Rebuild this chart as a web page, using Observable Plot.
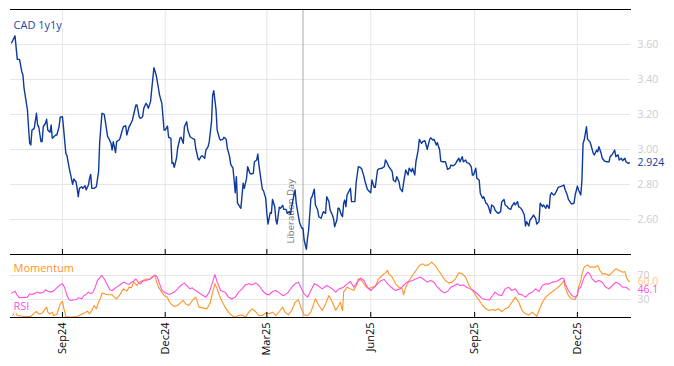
<!DOCTYPE html>
<html><head><meta charset="utf-8">
<script src="https://cdn.jsdelivr.net/npm/d3@7"></script>
<script src="https://cdn.jsdelivr.net/npm/@observablehq/plot@0.6"></script>
<style>
html,body{margin:0;padding:0;background:#fff;overflow:hidden}
#chart{width:674px;height:366px;position:relative;background:#fff}
#chart svg{display:block}
</style></head><body><div id="chart"></div>
<script>
// ---- data (day offset from series start, value) ----
const seriesStart = "2024-07-17";
const domainEnd = "2026-01-17";
const tickDates = ["2024-09-01","2024-12-01","2025-03-01","2025-06-01","2025-09-01","2025-12-01"];
const tickLabels = ["Sep24","Dec24","Mar25","Jun25","Sep25","Dec25"];
const yTicksTop = [2.6, 2.8, 3.0, 3.2, 3.4, 3.6];
const yTicksBottom = [30, 70];
const eventDate = "2025-04-02";
const eventLabel = "Liberation Day";
const seriesName = "CAD 1y1y";
const momName = "Momentum";
const rsiName = "RSI";

const cad = [[1,3.610],[4,3.649],[6,3.515],[8,3.515],[10,3.445],[11,3.426],[12,3.350],[15,3.226],[16,3.123],[17,3.035],[18,3.026],[19,3.111],[21,3.121],[23,3.207],[24,3.140],[25,3.130],[27,3.045],[28,3.045],[29,3.130],[31,3.150],[32,3.173],[33,3.111],[35,3.098],[36,3.140],[37,3.064],[40,3.083],[41,3.083],[43,3.130],[44,3.184],[46,3.187],[47,3.121],[49,2.978],[50,2.965],[52,2.893],[53,2.864],[55,2.801],[56,2.831],[58,2.816],[59,2.778],[60,2.730],[61,2.778],[63,2.787],[64,2.778],[66,2.793],[67,2.769],[69,2.797],[70,2.835],[71,2.858],[72,2.778],[74,2.778],[76,2.787],[78,2.873],[79,3.045],[81,3.207],[83,3.201],[84,3.159],[86,3.073],[87,3.064],[89,3.035],[90,2.997],[91,3.045],[93,2.982],[94,3.045],[96,3.054],[97,3.064],[99,3.111],[100,3.130],[102,3.136],[103,3.083],[105,3.130],[106,3.140],[108,3.169],[109,3.197],[111,3.254],[112,3.254],[114,3.187],[115,3.178],[117,3.187],[118,3.235],[120,3.264],[121,3.254],[122,3.235],[124,3.273],[125,3.340],[127,3.467],[129,3.426],[131,3.350],[132,3.311],[134,3.264],[136,3.111],[137,3.111],[139,3.134],[140,3.070],[142,3.064],[143,2.921],[144,2.925],[145,2.898],[147,2.950],[148,3.007],[150,3.064],[151,3.070],[153,3.035],[154,3.130],[156,3.159],[157,3.111],[159,3.073],[161,3.064],[163,3.058],[164,3.007],[166,2.950],[167,2.940],[169,2.963],[170,2.963],[172,2.950],[173,2.997],[175,3.016],[176,3.045],[178,3.159],[179,3.311],[180,3.336],[182,3.226],[183,3.111],[185,3.064],[186,3.054],[188,3.058],[189,3.070],[191,3.058],[192,3.007],[194,2.959],[195,2.915],[197,2.893],[198,2.826],[199,2.753],[200,2.845],[201,2.693],[203,2.673],[204,2.664],[206,2.807],[207,2.778],[209,2.835],[210,2.902],[212,2.864],[213,2.860],[215,2.864],[216,2.930],[218,2.940],[219,2.974],[220,2.911],[221,2.864],[223,2.773],[224,2.765],[226,2.721],[227,2.635],[228,2.574],[230,2.639],[231,2.635],[232,2.715],[234,2.673],[235,2.597],[236,2.574],[238,2.670],[239,2.664],[241,2.681],[242,2.658],[244,2.658],[245,2.635],[247,2.645],[248,2.631],[249,2.673],[251,2.740],[252,2.769],[253,2.693],[255,2.616],[256,2.582],[258,2.550],[259,2.550],[260,2.483],[262,2.430],[263,2.493],[264,2.540],[266,2.721],[267,2.730],[269,2.773],[270,2.683],[272,2.654],[273,2.616],[275,2.607],[277,2.645],[279,2.635],[280,2.730],[282,2.702],[283,2.654],[285,2.626],[286,2.607],[287,2.559],[289,2.597],[290,2.664],[291,2.664],[293,2.626],[294,2.616],[295,2.693],[296,2.711],[297,2.673],[298,2.740],[301,2.778],[302,2.702],[305,2.702],[306,2.807],[308,2.902],[310,2.896],[311,2.889],[313,2.845],[314,2.816],[316,2.773],[317,2.765],[319,2.753],[320,2.826],[322,2.784],[323,2.784],[325,2.883],[326,2.889],[329,2.893],[331,2.902],[332,2.940],[333,2.930],[335,2.902],[336,2.893],[338,2.873],[339,2.826],[341,2.816],[342,2.845],[344,2.816],[345,2.778],[347,2.759],[348,2.807],[350,2.883],[352,2.854],[353,2.893],[355,2.873],[356,2.893],[358,2.854],[359,2.930],[361,2.997],[362,3.058],[364,3.035],[365,3.045],[367,3.050],[368,3.026],[369,3.001],[371,3.054],[372,3.067],[374,3.054],[375,3.058],[377,3.026],[378,3.039],[380,2.997],[381,2.934],[382,2.930],[385,2.930],[386,2.911],[387,2.887],[389,2.893],[390,2.911],[392,2.907],[394,2.917],[395,2.930],[397,2.950],[398,2.930],[400,2.959],[401,2.930],[403,2.940],[404,2.925],[406,2.921],[408,2.902],[409,2.854],[410,2.854],[412,2.893],[413,2.835],[415,2.826],[416,2.750],[418,2.721],[419,2.730],[421,2.693],[422,2.689],[423,2.677],[425,2.635],[426,2.683],[428,2.673],[429,2.654],[431,2.639],[432,2.635],[434,2.645],[435,2.702],[437,2.715],[438,2.683],[440,2.673],[441,2.664],[443,2.658],[444,2.677],[446,2.696],[447,2.683],[449,2.702],[450,2.673],[452,2.664],[453,2.654],[455,2.626],[456,2.563],[457,2.588],[459,2.563],[460,2.597],[462,2.613],[463,2.626],[465,2.607],[466,2.574],[468,2.588],[469,2.693],[471,2.673],[472,2.683],[474,2.664],[475,2.683],[477,2.664],[478,2.740],[479,2.753],[481,2.740],[482,2.744],[484,2.769],[485,2.784],[488,2.791],[490,2.797],[491,2.773],[493,2.740],[494,2.715],[496,2.696],[497,2.689],[499,2.693],[500,2.740],[502,2.791],[503,2.769],[505,2.740],[506,2.826],[507,3.035],[508,3.054],[510,3.130],[511,3.058],[513,3.045],[514,3.026],[516,2.978],[517,2.969],[519,2.997],[520,2.987],[521,3.016],[523,2.978],[524,2.950],[526,2.934],[528,2.930],[530,2.930],[531,2.959],[533,2.973],[535,2.997],[536,2.959],[538,2.969],[539,2.940],[541,2.950],[542,2.936],[544,2.950],[545,2.930],[547,2.921],[548,2.924]];

const momentum = [[2,3.4],[4,10.6],[6,3.4],[12,1.7],[18,1.7],[21,7.2],[23,10.0],[25,6.1],[28,7.2],[32,17.3],[33,8.9],[35,6.1],[37,8.9],[38,3.4],[41,5.0],[44,22.8],[46,26.7],[47,17.3],[49,1.7],[53,0.6],[59,1.7],[62,4.5],[65,7.2],[68,10.6],[70,6.1],[72,11.7],[74,20.0],[76,14.5],[78,25.6],[80,33.9],[81,40.6],[83,39.5],[86,37.8],[90,37.8],[92,33.9],[94,31.1],[97,38.4],[99,45.0],[100,47.8],[103,43.9],[105,50.6],[107,49.5],[109,58.9],[112,53.4],[114,58.9],[117,61.7],[121,64.5],[123,62.8],[125,67.3],[128,70.0],[129,61.7],[131,50.6],[134,42.3],[136,36.7],[139,33.9],[140,28.4],[142,22.8],[145,18.4],[148,20.0],[151,25.6],[153,28.4],[155,22.8],[158,20.0],[161,28.4],[164,33.9],[167,17.3],[174,14.4],[177,25.5],[179,42.2],[181,56.1],[183,47.7],[185,36.6],[187,28.3],[190,17.2],[193,8.9],[196,3.3],[199,0.5],[202,3.3],[205,4.4],[208,0.5],[211,8.9],[214,14.4],[217,10.0],[220,3.3],[223,3.3],[226,7.7],[229,6.1],[232,8.9],[235,3.3],[238,10.0],[241,17.2],[243,8.9],[246,4.4],[249,11.6],[252,25.5],[255,29.4],[257,17.2],[260,4.4],[263,3.3],[266,8.9],[269,26.0],[270,31.1],[273,20.0],[276,11.6],[279,22.7],[282,36.6],[285,25.5],[288,11.6],[291,21.1],[292,25.5],[294,11.6],[295,42.2],[298,50.5],[301,47.7],[304,45.0],[307,56.1],[308,64.4],[311,61.6],[314,53.3],[317,47.7],[320,50.5],[323,52.2],[326,64.4],[329,70.0],[332,74.4],[334,78.3],[335,72.7],[338,67.2],[341,56.1],[344,50.5],[347,47.7],[348,37.7],[350,50.5],[353,61.6],[356,70.0],[359,78.3],[362,86.6],[365,89.4],[367,86.6],[370,87.7],[373,92.2],[376,86.6],[379,78.3],[382,70.0],[385,61.6],[388,57.7],[391,58.9],[394,64.4],[397,74.4],[400,72.7],[403,67.2],[406,53.3],[409,45.0],[412,36.6],[415,28.3],[418,20.0],[421,14.4],[424,11.6],[427,13.3],[429,11.6],[432,14.4],[435,10.0],[438,14.4],[441,17.2],[444,25.5],[447,33.9],[450,25.5],[453,11.6],[456,6.1],[459,4.4],[462,8.9],[465,4.0],[466,2.0],[468,12.0],[471,25.5],[474,33.9],[477,39.4],[480,43.3],[483,47.7],[485,50.5],[488,56.1],[490,61.6],[491,50.5],[494,36.6],[497,31.1],[500,30.0],[502,39.4],[503,50.5],[505,61.6],[506,72.7],[508,83.9],[511,87.7],[513,83.9],[515,83.9],[518,83.9],[520,86.6],[522,78.3],[524,72.7],[527,72.7],[530,70.0],[533,75.5],[536,81.1],[539,78.3],[542,75.5],[544,76.6],[545,70.0],[546,64.4],[547,61.6],[548,60.0]];

const rsi = [[1,40.6],[4,43.9],[6,36.7],[8,32.8],[15,33.9],[17,39.5],[19,38.4],[22,40.6],[24,42.3],[26,40.6],[29,41.7],[31,46.1],[33,43.9],[35,42.3],[38,43.9],[41,49.5],[44,54.5],[46,56.1],[48,49.5],[50,36.7],[52,29.5],[54,28.4],[56,29.5],[58,29.5],[60,32.8],[63,31.1],[65,36.7],[67,38.4],[69,42.3],[71,39.5],[73,42.3],[75,50.6],[77,61.7],[80,68.4],[81,70.0],[83,64.5],[86,53.4],[88,46.1],[90,45.0],[92,47.8],[94,50.6],[97,54.5],[99,57.3],[101,58.9],[103,56.1],[105,55.0],[107,58.9],[109,60.6],[111,64.5],[113,58.9],[115,56.1],[117,60.6],[120,61.7],[122,62.8],[124,64.5],[126,67.3],[128,71.1],[130,67.3],[132,56.1],[134,46.1],[136,42.3],[139,39.5],[141,38.4],[143,40.6],[145,42.3],[148,47.8],[150,51.7],[152,55.0],[154,57.3],[156,53.4],[159,47.8],[161,49.5],[163,46.1],[165,43.9],[168,39.5],[173,33.9],[176,42.2],[179,58.9],[181,71.6],[183,58.9],[186,45.0],[190,42.2],[193,33.9],[196,31.1],[199,33.9],[202,42.2],[205,47.7],[208,54.4],[211,56.1],[214,54.4],[217,57.7],[220,53.3],[223,45.0],[226,39.4],[229,37.7],[232,43.3],[235,45.0],[238,41.1],[241,36.6],[243,37.7],[246,42.2],[249,50.5],[252,56.1],[255,58.9],[257,50.5],[260,39.4],[263,33.9],[266,45.0],[269,56.1],[272,53.3],[276,47.7],[280,53.3],[285,47.7],[288,42.2],[291,47.7],[295,50.5],[298,56.1],[301,60.0],[304,50.5],[307,58.9],[310,65.5],[313,61.6],[316,50.5],[319,45.0],[322,50.5],[325,56.1],[328,61.6],[331,63.3],[334,56.1],[337,50.5],[341,45.0],[345,47.7],[348,53.3],[351,58.9],[356,61.6],[360,65.5],[363,67.2],[366,63.3],[369,58.9],[372,61.6],[375,58.9],[378,50.5],[381,45.0],[384,41.1],[387,43.3],[390,50.5],[393,53.3],[396,56.1],[398,53.3],[401,54.4],[404,50.5],[407,47.7],[410,45.0],[415,36.6],[418,31.1],[421,30.0],[424,29.4],[427,36.6],[429,42.2],[432,37.7],[435,36.6],[438,47.7],[441,50.5],[444,45.0],[447,47.7],[450,39.4],[453,37.7],[456,33.9],[459,39.4],[462,42.2],[465,47.7],[468,43.3],[471,53.3],[474,56.1],[477,56.1],[480,58.9],[483,60.0],[485,61.6],[488,65.5],[490,65.5],[491,56.1],[494,45.0],[497,36.6],[500,33.9],[502,36.6],[503,47.7],[505,50.5],[506,56.1],[508,67.2],[511,75.5],[513,72.7],[515,64.4],[518,58.9],[521,61.6],[524,58.9],[527,50.5],[530,47.7],[533,53.3],[536,58.9],[539,56.1],[542,50.5],[545,50.5],[547,47.7],[548,46.1]];

// ---- helpers ----
const t0 = new Date(seriesStart);
const toDate = d => new Date(+t0 + d * 864e5);
const ticks = tickDates.map(s => new Date(s));
const labelOf = new Map(ticks.map((d, i) => [+d, tickLabels[i]]));
const ev = [{date: new Date(eventDate), text: eventLabel}];
const xScale = {type: "utc", domain: [t0, new Date(domainEnd)]};

const BLUE = "#0d3a9c", ORANGE = "#ff9424", PINK = "#ff4fdc";
const GRID = "#e6e6e6", TICKTXT = "#cccccc";
const font = "'Open Sans', 'DejaVu Sans', sans-serif";

const topChart = Plot.plot({
  width: 674, height: 255,
  marginTop: 9, marginBottom: 1, marginLeft: 10, marginRight: 44,
  style: {fontFamily: font, fontSize: "10.5px", background: "white", overflow: "visible"},
  x: {...xScale, axis: null},
  y: {domain: [2.4, 3.8], axis: null},
  marks: [
    Plot.gridY(yTicksTop, {stroke: GRID, strokeOpacity: 1}),
    Plot.gridX(ticks, {stroke: GRID, strokeOpacity: 1}),
    Plot.ruleX(ev, {x: "date", stroke: "#a8a8a8", strokeWidth: 1}),
    Plot.text(ev, {x: "date", text: "text", frameAnchor: "bottom", dx: -12, dy: -11, rotate: -90, textAnchor: "start", lineAnchor: "middle", fill: "#777", fontSize: 9.5}),
    Plot.line(cad, {x: d => toDate(d[0]), y: d => d[1], stroke: BLUE, strokeWidth: 1.4}),
    Plot.frame({anchor: "top", stroke: "black"}),
    Plot.frame({anchor: "bottom", stroke: "black"}),
    Plot.tickX(ticks, {x: d => d, stroke: "black", insetTop: 240}),
    Plot.axisY(yTicksTop, {anchor: "right", tickSize: 0, tickPadding: 7, tickFormat: d3.format(".2f"), fill: TICKTXT, fontSize: 10.5, label: null}),
    Plot.text([cad[cad.length - 1]], {y: d => d[1], text: d => d[1].toFixed(3), frameAnchor: "right", dx: 7, textAnchor: "start", fill: BLUE, fontSize: 10.5}),
    Plot.text([seriesName], {frameAnchor: "top-left", dx: 3, dy: 16, textAnchor: "start", lineAnchor: "middle", fill: "#1b47a8", fontSize: 11, stroke: "white", strokeWidth: 5})
  ]
});

const bottomChart = Plot.plot({
  width: 674, height: 111,
  marginTop: 0, marginBottom: 49, marginLeft: 10, marginRight: 44,
  style: {fontFamily: font, fontSize: "11px", background: "white", overflow: "visible"},
  x: {...xScale, axis: null},
  y: {domain: [0, 103.3], axis: null},
  marks: [
    Plot.gridY(yTicksBottom, {stroke: GRID, strokeOpacity: 1}),
    Plot.gridX(ticks, {stroke: GRID, strokeOpacity: 1}),
    Plot.ruleX(ev, {x: "date", stroke: "#a8a8a8", strokeWidth: 1}),
    Plot.line(momentum, {x: d => toDate(d[0]), y: d => d[1], stroke: ORANGE, strokeWidth: 1.1}),
    Plot.line(rsi, {x: d => toDate(d[0]), y: d => d[1], stroke: PINK, strokeWidth: 1.1}),
    Plot.frame({anchor: "bottom", stroke: "black"}),
    Plot.tickX(ticks, {x: d => d, stroke: "black", insetTop: 57}),
    Plot.axisY(yTicksBottom, {anchor: "right", tickSize: 0, tickPadding: 7, fill: TICKTXT, fontSize: 10.5, label: null}),
    Plot.text([momentum[momentum.length - 1]], {y: d => d[1], text: d => d[1].toFixed(1), frameAnchor: "right", dx: 7, textAnchor: "start", fill: "#ffc68c", fontSize: 10.5}),
    Plot.text([rsi[rsi.length - 1]], {y: d => d[1], text: d => d[1].toFixed(1), frameAnchor: "right", dx: 7, textAnchor: "start", fill: PINK, fontSize: 10.5}),
    Plot.text([momName], {frameAnchor: "top-left", dx: 3, dy: 13, textAnchor: "start", lineAnchor: "middle", fill: ORANGE, fontSize: 11, stroke: "white", strokeWidth: 6, strokeOpacity: 0.85}),
    Plot.text([rsiName], {frameAnchor: "bottom-left", dx: 3, dy: -11, textAnchor: "start", lineAnchor: "middle", fill: PINK, fontSize: 11, stroke: "white", strokeWidth: 7, strokeOpacity: 0.8}),
    Plot.axisX(ticks, {anchor: "bottom", tickSize: 0, tickPadding: 5, tickRotate: -90, tickFormat: d => labelOf.get(+d), fill: "black", fontSize: 11, label: null})
  ]
});

const root = document.getElementById("chart");
root.append(topChart, bottomChart);
</script></body></html>
